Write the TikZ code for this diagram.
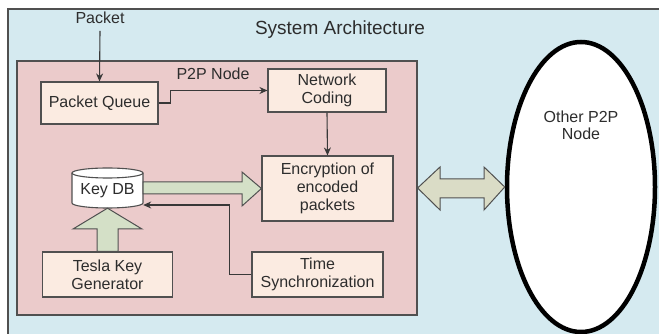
\documentclass[tikz,border=0pt]{standalone}
\usepackage{fontspec}
\setmainfont{Liberation Sans}
\usetikzlibrary{arrows.meta,shapes.geometric}
\definecolor{outerblue}{RGB}{213,234,240}
\definecolor{pinkbg}{RGB}{235,203,203}
\definecolor{boxfill}{RGB}{251,235,225}
\definecolor{bordergray}{RGB}{80,80,80}
\definecolor{greenarrow}{RGB}{212,224,199}
\definecolor{dblarrow}{RGB}{218,220,198}
\definecolor{txt}{RGB}{45,45,45}
\tikzset{
  x=1pt,y=1pt,
  every node/.style={text=txt},
  proc/.style={draw=bordergray,line width=1.1pt,fill=boxfill,align=center,
    inner sep=0pt,font=\fontsize{16}{18}\selectfont},
  lbl/.style={font=\fontsize{16}{18}\selectfont,inner sep=0pt,align=center},
  conn/.style={draw=bordergray!70!black,line width=1.1pt,-{Stealth[length=8pt,width=7pt]}},
  bigarrow/.style={draw=bordergray,line width=1pt,fill=greenarrow,line join=miter},
}
\begin{document}
\begin{tikzpicture}
\useasboundingbox (0,0) rectangle (659,334);
% outer system box
\draw[draw=bordergray,line width=1.2pt,fill=outerblue] (8,325) rectangle (670,-10);
\node[lbl,font=\fontsize{19}{22}\selectfont] (sysarch) at (340,304) {System Architecture};
% P2P node container
\node[draw=bordergray,line width=1.2pt,fill=pinkbg,minimum width=400pt,minimum height=254pt,inner sep=0pt] (p2p) at (217,146) {};
\node[lbl] (p2plbl) at (213,260) {P2P Node};
% packet input
\node[lbl] (packet) at (100,316) {Packet};
\coordinate (pin) at (100,303);
% boxes
\node[proc,minimum width=117pt,minimum height=42pt] (pq) at (99.5,231) {Packet Queue};
\node[proc,minimum width=118pt,minimum height=43pt] (nc) at (327,243.5) {Network\\Coding};
\node[proc,minimum width=131pt,minimum height=65pt] (enc) at (327.5,145.5) {Encryption of\\encoded\\packets};
\node[proc,minimum width=130pt,minimum height=45pt] (tesla) at (107.5,59.5) {Tesla Key\\Generator};
\node[proc,minimum width=131pt,minimum height=45pt] (time) at (317.5,59.5) {Time\\Synchronization};
% Key DB cylinder
\node[lbl,minimum width=71pt,minimum height=40pt] (keydb) at (107.5,146) {};
\draw[draw=bordergray,line width=1.1pt,fill=white]
  (72,161) -- (72,131) arc[start angle=180,end angle=360,x radius=35.5,y radius=5]
  -- (143,161) arc[start angle=0,end angle=180,x radius=35.5,y radius=5] -- cycle;
\draw[draw=bordergray,line width=1.1pt] (72,161) arc[start angle=180,end angle=360,x radius=35.5,y radius=5];
\node[lbl] (keydbtxt) at (107.5,143.5) {Key DB};
% other node
\node[draw=black,line width=4.5pt,fill=white,ellipse,minimum width=148pt,minimum height=290pt,inner sep=0pt] (other) at (581,147) {};
\node[lbl,font=\fontsize{16}{17}\selectfont] (othertxt) at (581,209) {Other P2P\\Node};
% connectors
\draw[conn] (pin) -- (pq.north);
\draw[conn] (pq.east) -- ++(12,0) |- (nc.west);
\draw[conn] (nc.south) -- (enc.north);
\draw[conn] (time.west) -- ++(-22,0) |- ([yshift=-17pt]keydb.east);
% big arrows
\draw[bigarrow] ([yshift=6pt]keydb.east) -- (242,152) -- (242,162) -- (enc.west)
  -- (242,128) -- (242,140) -- ([yshift=-6pt]keydb.east) -- cycle;
\draw[bigarrow] ([xshift=-10.5pt]tesla.north) -- (97,105) -- (73,105) -- (keydb.south)
  -- (142,105) -- (118,105) -- ([xshift=10.5pt]tesla.north) -- cycle;
\draw[bigarrow,fill=dblarrow] (p2p.east) -- (440,167) -- (440,155) -- (484,155) -- (484,167)
  -- (other.west) -- (484,124) -- (484,136) -- (440,136) -- (440,124) -- cycle;
\end{tikzpicture}
\end{document}
